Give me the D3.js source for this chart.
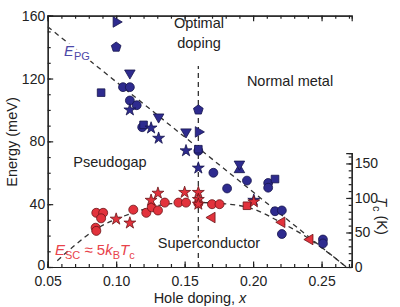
<!DOCTYPE html>
<meta charset="utf-8">
<style>
    body { margin: 0; background: #fff; }
    text { font-family: "Liberation Sans", Arial, sans-serif; }
    .axis text { font-size: 14px; fill: #222; }
    .axis path, .axis line { stroke: #222; stroke-width: 1.2; }
    .guide { fill: none; stroke: #333; stroke-width: 1.3; stroke-dasharray: 5,4; }
    .lbl { font-size: 14.5px; fill: #222; }
</style>
<body>
<script src="https://d3js.org/d3.v7.min.js"></script>
<script>
    // ---- data (hole doping x, energy meV) ----
    var bluePentagons = [[0.100, 140], [0.160, 100]];
    var blueRight = [[0.100, 156], [0.160, 86]];
    var blueDown = [[0.110, 123.5], [0.131, 95.5], [0.151, 86], [0.190, 65.5]];
    var blueUp = [[0.190, 62]];
    var blueSquares = [[0.089, 111], [0.120, 90.5], [0.160, 75], [0.216, 56]];
    var blueCircles = [[0.105, 114.5], [0.110, 114.5], [0.110, 106], [0.115, 103], [0.119, 89],
        [0.160, 74], [0.171, 60], [0.181, 50], [0.1955, 55], [0.211, 53.5], [0.211, 50.5],
        [0.216, 35.5], [0.221, 36], [0.221, 21], [0.251, 17.5], [0.251, 15]];
    var blueStars = [[0.110, 100], [0.1255, 88.5], [0.131, 82], [0.151, 74], [0.160, 63], [0.2005, 42.5]];

    var redCircles = [[0.085, 25], [0.0855, 23], [0.0855, 34.5], [0.0905, 34.5], [0.089, 31],
        [0.1125, 36.5], [0.122, 34.5], [0.126, 38], [0.1305, 36], [0.1355, 41], [0.1455, 41],
        [0.151, 41], [0.160, 40.5], [0.170, 40], [0.1755, 40]];
    var redStars = [[0.100, 30.5], [0.110, 28], [0.1255, 42.5], [0.1305, 47], [0.150, 47.5],
        [0.160, 47.5], [0.160, 43], [0.160, 40], [0.2005, 41.5]];
    var redLeft = [[0.170, 31.5], [0.221, 28.5], [0.2415, 17.5]];
    var redSquares = [[0.1955, 39]];

    // guide lines
    var pgLine = [[0.05, 153], [0.268, 0]];
    var scDome = [[0.057, 4], [0.07, 14], [0.085, 24], [0.10, 30.5], [0.1125, 34.5], [0.125, 38],
        [0.14, 40.3], [0.16, 41], [0.18, 40.2], [0.20, 37], [0.22, 28.5], [0.24, 18.5],
        [0.255, 9], [0.266, 1.5]];
    var optimalLine = [[0.16, 0], [0.16, 128]];

    var xTicks = [0.05, 0.10, 0.15, 0.20, 0.25];
    var yTicks = [0, 40, 80, 120, 160];
    var tcTicks = [0, 50, 100, 150];

    // ---- layout ----
    var W = 400, H = 307;
    var padL = 47.7, padR = 351.7, padT = 15.7, padB = 267;

    var svg = d3.select("body").append("svg")
        .attr("width", W)
        .attr("height", H);

    var x = d3.scaleLinear().domain([0.05, 0.272]).range([padL, padR]);
    var y = d3.scaleLinear().domain([0, 160]).range([padB, padT]);
    var tc = d3.scaleLinear().domain([0, 364]).range([padB, padT]);
    var tcAxisScale = d3.scaleLinear().domain([0, 165]).range([padB, tc(165)]);

    // axes, ticks pointing inward
    function minor(axis) { return axis.tickFormat("").tickSize(-3); }

    svg.append("g").attr("class", "axis")
        .attr("transform", "translate(" + padL + ",0)")
        .call(minor(d3.axisLeft(y).tickValues(d3.range(0, 161, 10))));
    svg.append("g").attr("class", "axis")
        .attr("transform", "translate(" + padL + ",0)")
        .call(d3.axisLeft(y).tickValues(yTicks).tickSize(-5.5).tickPadding(2.5))
        .selectAll("text").filter(d => d === 0).attr("dy", "0.2em");

    svg.append("g").attr("class", "axis")
        .attr("transform", "translate(0," + padB + ")")
        .call(minor(d3.axisBottom(x).tickValues(d3.range(0.05, 0.2705, 0.01))));
    svg.append("g").attr("class", "axis")
        .attr("transform", "translate(0," + padB + ")")
        .call(d3.axisBottom(x).tickValues(xTicks).tickSize(-5.5).tickPadding(9)
            .tickFormat(d3.format(".2f")));

    svg.append("g").attr("class", "axis")
        .attr("transform", "translate(0," + padT + ")")
        .call(minor(d3.axisTop(x).tickValues(d3.range(0.05, 0.2705, 0.01))));
    svg.append("g").attr("class", "axis")
        .attr("transform", "translate(0," + padT + ")")
        .call(d3.axisTop(x).tickValues(xTicks).tickSize(-5.5).tickFormat(""));

    svg.append("g").attr("class", "axis")
        .attr("transform", "translate(" + padR + ",0)")
        .call(minor(d3.axisRight(tcAxisScale).tickValues(d3.range(0, 161, 10))));
    svg.append("g").attr("class", "axis")
        .attr("transform", "translate(" + padR + ",0)")
        .call(d3.axisRight(tcAxisScale).tickValues(tcTicks).tickSize(-5.5).tickPadding(3));

    // dashed guides
    var line = d3.line().x(d => x(d[0])).y(d => y(d[1]));
    svg.append("path").attr("class", "guide").attr("d", line(pgLine));
    svg.append("path").attr("class", "guide").attr("d", line(optimalLine));
    svg.append("path").attr("class", "guide").attr("d", line.curve(d3.curveMonotoneX)(scDome));

    // markers
    var pentagon = {
        draw: function (ctx, size) {
            var r = Math.sqrt(size / 2.378);
            for (var i = 0; i < 5; i++) {
                var a = -Math.PI / 2 + i * 2 * Math.PI / 5;
                if (i === 0) ctx.moveTo(r * Math.cos(a), r * Math.sin(a));
                else ctx.lineTo(r * Math.cos(a), r * Math.sin(a));
            }
            ctx.closePath();
        }
    };

    var blue = { fill: "#2e2b8f", stroke: "#16154d" };
    var red = { fill: "#e2323c", stroke: "#6a1418" };

    function plot(data, type, size, rot, col) {
        svg.append("g").selectAll("path")
            .data(data)
            .enter().append("path")
            .attr("d", d3.symbol().type(type).size(size))
            .attr("transform", d => "translate(" + x(d[0]) + "," + y(d[1]) + ") rotate(" + rot + ")")
            .attr("fill", col.fill)
            .attr("stroke", col.stroke)
            .attr("stroke-width", 0.8);
    }

    plot(blueCircles, d3.symbolCircle, 62, 0, blue);
    plot(blueSquares, d3.symbolSquare, 58, 0, blue);
    plot(bluePentagons, pentagon, 62, 0, blue);
    plot(blueUp, d3.symbolTriangle, 48, 0, blue);
    plot(blueDown, d3.symbolTriangle, 48, 180, blue);
    plot(blueRight, d3.symbolTriangle, 48, 90, blue);
    plot(blueStars, d3.symbolStar, 44, 0, blue);

    plot(redCircles, d3.symbolCircle, 64, 0, red);
    plot(redSquares, d3.symbolSquare, 58, 0, red);
    plot(redLeft, d3.symbolTriangle, 48, -90, red);
    plot(redStars, d3.symbolStar, 44, 0, red);

    // region labels
    svg.append("text").attr("class", "lbl").attr("x", 199).attr("y", 28)
        .attr("text-anchor", "middle").text("Optimal");
    svg.append("text").attr("class", "lbl").attr("x", 199).attr("y", 48)
        .attr("text-anchor", "middle").text("doping");
    svg.append("text").attr("class", "lbl").attr("x", 290).attr("y", 86)
        .attr("text-anchor", "middle").text("Normal metal");
    svg.append("text").attr("class", "lbl").attr("x", 110).attr("y", 167)
        .attr("text-anchor", "middle").text("Pseudogap");
    svg.append("text").attr("class", "lbl").attr("x", 209).attr("y", 248)
        .attr("text-anchor", "middle")
        .attr("stroke", "#fff").attr("stroke-width", 4).attr("paint-order", "stroke")
        .text("Superconductor");

    var epg = svg.append("text").attr("x", 64).attr("y", 56)
        .style("font-size", "15px").attr("fill", "#4d48a8")
        .attr("stroke", "#fff").attr("stroke-width", 5).attr("paint-order", "stroke");
    epg.append("tspan").style("font-style", "italic").text("E");
    epg.append("tspan").attr("dy", 4).style("font-size", "11px").text("PG");

    var esc = svg.append("text").attr("x", 55).attr("y", 255)
        .style("font-size", "15px").attr("fill", "#e8434b");
    esc.append("tspan").style("font-style", "italic").text("E");
    esc.append("tspan").attr("dy", 4).style("font-size", "11px").text("SC");
    esc.append("tspan").attr("dy", -4).text(" \u2248 5");
    esc.append("tspan").style("font-style", "italic").text("k");
    esc.append("tspan").attr("dy", 4).style("font-size", "11px").text("B");
    esc.append("tspan").attr("dy", -4).style("font-style", "italic").text("T");
    esc.append("tspan").attr("dy", 4).style("font-size", "11px").text("c");

    // axis titles
    svg.append("text").attr("class", "lbl")
        .attr("transform", "translate(17,142) rotate(-90)")
        .attr("text-anchor", "middle").text("Energy (meV)");

    var xt = svg.append("text").attr("class", "lbl").attr("x", 200).attr("y", 302.5)
        .attr("text-anchor", "middle");
    xt.append("tspan").text("Hole doping, ");
    xt.append("tspan").style("font-style", "italic").text("x");

    var tt = svg.append("text").attr("class", "lbl")
        .attr("transform", "translate(377,216) rotate(90)")
        .attr("text-anchor", "middle");
    tt.append("tspan").style("font-style", "italic").text("T");
    tt.append("tspan").attr("dy", 4).style("font-size", "11px").text("c");
    tt.append("tspan").attr("dy", -4).text(" (K)");
</script>
</body>
